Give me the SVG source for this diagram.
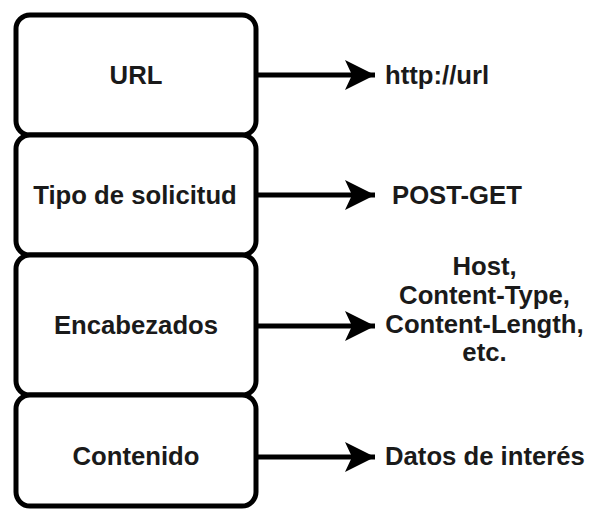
<svg xmlns="http://www.w3.org/2000/svg" width="590" height="511" viewBox="0 0 590 511">
<defs>
<style>
.box{fill:#fff;stroke:#000;stroke-width:5}
.lbl{font-family:"Liberation Sans",Arial,sans-serif;font-weight:bold;font-size:25.7px;fill:#1a1a1a}
.mid{text-anchor:middle}
.edge{stroke:#000;stroke-width:5;fill:none}
</style>
<marker id="arr" markerUnits="userSpaceOnUse" markerWidth="32" markerHeight="32" viewBox="0 0 32 32" refX="30" refY="16" orient="auto">
<path d="M30,16 L0,1 L7,16 L0,31 Z" fill="#000"/>
</marker>
</defs>
<rect width="590" height="511" fill="#fff"/>
<g id="node-url">
<rect class="box" x="16" y="15" width="240" height="120" rx="14"/>
<text class="lbl mid" x="136" y="84">URL</text>
</g>
<g id="node-tipo">
<rect class="box" x="16" y="135" width="240" height="120" rx="14"/>
<text class="lbl mid" x="135" y="204">Tipo de solicitud</text>
</g>
<g id="node-enc">
<rect class="box" x="16" y="255" width="240" height="140" rx="14"/>
<text class="lbl mid" x="136" y="334">Encabezados</text>
</g>
<g id="node-cont">
<rect class="box" x="16" y="395" width="240" height="111" rx="14"/>
<text class="lbl mid" x="136" y="465">Contenido</text>
</g>
<g id="connectors">
<line class="edge" x1="256" y1="75" x2="375" y2="75" marker-end="url(#arr)"/>
<line class="edge" x1="256" y1="195" x2="375" y2="195" marker-end="url(#arr)"/>
<line class="edge" x1="256" y1="326" x2="375" y2="326" marker-end="url(#arr)"/>
<line class="edge" x1="256" y1="457" x2="375" y2="457" marker-end="url(#arr)"/>
</g>
<g id="labels">
<text class="lbl" x="385" y="84">http://url</text>
<text class="lbl" x="392" y="204">POST-GET</text>
<text class="lbl mid" x="484.5" y="275">Host,</text>
<text class="lbl mid" x="484.5" y="304">Content-Type,</text>
<text class="lbl mid" x="484.5" y="333">Content-Length,</text>
<text class="lbl mid" x="484.5" y="361">etc.</text>
<text class="lbl" x="385" y="465">Datos de interés</text>
</g>
</svg>
